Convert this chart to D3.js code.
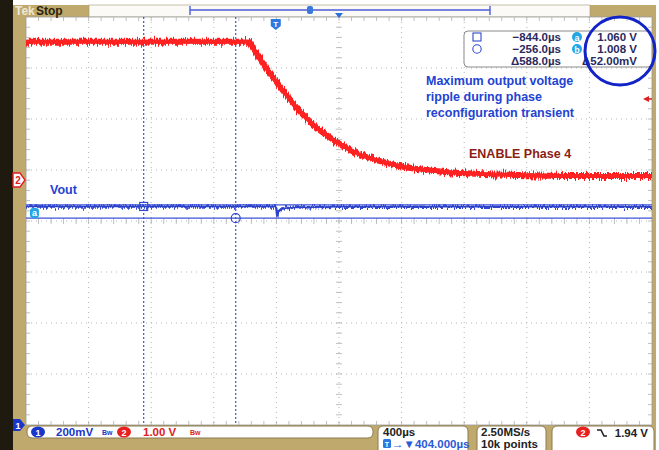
<!DOCTYPE html>
<html><head><meta charset="utf-8">
<script src="https://cdn.jsdelivr.net/npm/d3@7"></script>
<style>body{margin:0;background:#fff}svg{display:block}</style>
</head><body>
<svg id="c" width="659" height="450"></svg>
<script>
// ---- data ----
const timeUs  = [-1596, -172, -140, -76, 0, 83, 146, 242, 338, 433, 529, 656, 783, 943, 1102, 1293, 1548, 1930, 2404];
const enableV = [2.71, 2.71, 2.55, 2.26, 1.94, 1.61, 1.37, 1.08, 0.85, 0.66, 0.51, 0.38, 0.28, 0.20, 0.15, 0.12, 0.10, 0.08, 0.08];
const voutT   = [-1596, -5, 3, 9, 15, 40, 120, 400, 2404];
const voutV   = [1.054, 1.054, 1.046, 1.014, 1.034, 1.046, 1.050, 1.053, 1.053];
const cursorT = [-844, -256];
const cursorV = [1.060, 1.008];
const measLabels = ["\u2212844.0\u00b5s", "\u2212256.0\u00b5s", "\u0394588.0\u00b5s"];
const measVolts  = ["1.060 V", "1.008 V", "\u039452.00mV"];
const annotation = ["Maximum output voltage", "ripple during phase", "reconfiguration transient"];
const ch1Scale = 0.2, ch2Scale = 1.0, timePerDiv = 400, delayUs = 404, trigLevel = 1.94;

// ---- layout ----
const svg = d3.select("#c");
const L = 26, R = 652, T = 17, B = 425;
const TAN = "#bfa96c";
const UI = "Liberation Sans";
const x = d3.scaleLinear().domain([delayUs - 5*timePerDiv, delayUs + 5*timePerDiv]).range([L, R]);
const ch1Center = 0.997, ch2Center = -0.804;
const y1 = d3.scaleLinear().domain([ch1Center - 4*ch1Scale, ch1Center + 4*ch1Scale]).range([B, T]);
const y2 = d3.scaleLinear().domain([ch2Center - 4*ch2Scale, ch2Center + 4*ch2Scale]).range([B, T]);

// frame
svg.append("rect").attr("x",0).attr("y",0).attr("width",659).attr("height",450).attr("fill","#fff");
svg.append("rect").attr("x",13).attr("y",5).attr("width",643).attr("height",445).attr("fill",TAN);
svg.append("rect").attr("x",0).attr("y",0).attr("width",13).attr("height",450).attr("fill","#1e1a10");
svg.append("rect").attr("x",89).attr("y",5).attr("width",501).attr("height",12).attr("fill","#fbfaf6").attr("stroke","#a09878").attr("stroke-width",0.6);
svg.append("rect").attr("x",L).attr("y",T).attr("width",R-L).attr("height",B-T).attr("fill","#fff").attr("stroke","#9a9a9a").attr("stroke-width",0.8);

// grid
const g = svg.append("g");
const xt = d3.range(1,10).map(i => x.domain()[0] + i*timePerDiv);
const yt = d3.range(1,8).map(i => y1.domain()[0] + i*ch1Scale);
g.selectAll(".vg").data(xt).join("line").attr("x1",d=>x(d)).attr("x2",d=>x(d)).attr("y1",T).attr("y2",B)
  .attr("stroke","#b4b4b4").attr("stroke-width",1).attr("stroke-dasharray","1,4");
g.selectAll(".hg").data(yt).join("line").attr("y1",d=>y1(d)).attr("y2",d=>y1(d)).attr("x1",L).attr("x2",R)
  .attr("stroke","#b4b4b4").attr("stroke-width",1).attr("stroke-dasharray","1,4");
// minor ticks
const xm = d3.range(1,50).map(i => x.domain()[0] + i*timePerDiv/5);
const ym = d3.range(1,40).map(i => y1.domain()[0] + i*ch1Scale/5);
const cx = x(delayUs), cy = y1(ch1Center);
const tick = (x1,y1_,x2,y2_) => g.append("line").attr("x1",x1).attr("y1",y1_).attr("x2",x2).attr("y2",y2_).attr("stroke","#b0b0b0").attr("stroke-width",0.8);
xm.forEach(v => { const px = x(v); tick(px,T,px,T+4); tick(px,B-4,px,B); tick(px,cy-3,px,cy+3); });
ym.forEach(v => { const py = y1(v); tick(L,py,L+4,py); tick(R-4,py,R,py); tick(cx-3,py,cx+3,py); });

// noise filter (visual texture only)
const defs = svg.append("defs");
const f = defs.append("filter").attr("id","nz").attr("x","-5%").attr("y","-20%").attr("width","110%").attr("height","140%");
f.append("feTurbulence").attr("type","fractalNoise").attr("baseFrequency","0.9 0.03").attr("numOctaves",2).attr("seed",3).attr("result","t");
f.append("feColorMatrix").attr("in","t").attr("type","matrix")
  .attr("values","0 0 0 0 0.5  0 1 0 0 0  0 0 0 0 0  0 0 0 0 1").attr("result","m");
f.append("feDisplacementMap").attr("in","SourceGraphic").attr("in2","m").attr("scale",9).attr("xChannelSelector","R").attr("yChannelSelector","G");

// cursors (vertical)
svg.selectAll(".cur").data(cursorT).join("line").attr("x1",d=>x(d)).attr("x2",d=>x(d)).attr("y1",T).attr("y2",B)
  .attr("stroke","#3c52d8").attr("stroke-width",1.2).attr("stroke-dasharray","2,2");
// horizontal cursors
svg.selectAll(".hcur").data(cursorV).join("line").attr("x1",L).attr("x2",R).attr("y1",d=>y1(d)).attr("y2",d=>y1(d))
  .attr("stroke","#3c52d8").attr("stroke-width",1.2);

// red trace
const redData = timeUs.map((t,i)=>[t,enableV[i]]);
const redLine = d3.line().x(d=>x(d[0])).y(d=>y2(d[1])).curve(d3.curveMonotoneX);
svg.append("path").datum(redData).attr("d",redLine).attr("fill","none").attr("stroke","#ff1a1a").attr("stroke-width",6).attr("filter","url(#nz)");
svg.append("path").datum(redData).attr("d",redLine).attr("fill","none").attr("stroke","#f22").attr("stroke-width",4);

// blue trace
const blueData = voutT.map((t,i)=>[t,voutV[i]]);
const blueLine = d3.line().x(d=>x(d[0])).y(d=>y1(d[1])).curve(d3.curveLinear);
svg.append("path").datum(blueData).attr("d",blueLine).attr("fill","none").attr("stroke","#3048d0").attr("stroke-width",2.4).attr("filter","url(#nz)");
svg.append("path").datum(blueData).attr("d",blueLine).attr("fill","none").attr("stroke","#2a40c8").attr("stroke-width",1.4);

// cursor markers
svg.append("rect").attr("x",x(cursorT[0])-4).attr("y",y1(voutV[0])-4).attr("width",8).attr("height",8).attr("fill","none").attr("stroke","#3048d0").attr("stroke-width",1.2);
svg.append("circle").attr("cx",x(cursorT[1])).attr("cy",y1(cursorV[1])).attr("r",4.5).attr("fill","none").attr("stroke","#3048d0").attr("stroke-width",1.2);

// top bar
svg.append("text").attr("x",15).attr("y",15).attr("font-family",UI).attr("font-size",12).attr("font-weight","bold").attr("fill","#eee8d8").text("Tek");
svg.append("text").attr("x",36).attr("y",15).attr("font-family",UI).attr("font-size",12).attr("font-weight","bold").attr("fill","#2a2410").text("Stop");
const tb = svg.append("g").attr("stroke","#4a5cd8").attr("stroke-width",1.4);
tb.append("line").attr("x1",190).attr("x2",490).attr("y1",10).attr("y2",10);
tb.append("line").attr("x1",190).attr("x2",190).attr("y1",6).attr("y2",15);
tb.append("line").attr("x1",490).attr("x2",490).attr("y1",6).attr("y2",15);
svg.append("rect").attr("x",307).attr("y",6).attr("width",6).attr("height",8).attr("rx",2).attr("fill","#3a78e0");
svg.append("path").attr("d",`M${x(delayUs)-4},13 L${x(delayUs)+4},13 L${x(delayUs)},18 Z`).attr("fill","#2a70d8");
// trigger T marker
const tx = x(0);
svg.append("path").attr("d",`M${tx-5},19 h10 v7 l-5,4 l-5,-4 Z`).attr("fill","#2a78e0");
svg.append("text").attr("x",tx).attr("y",27).attr("text-anchor","middle").attr("font-family",UI).attr("font-size",8).attr("font-weight","bold").attr("fill","#fff").text("T");
// trigger level arrow right
const ty = 99;
svg.append("path").attr("d",`M${R-9},${ty} L${R-3},${ty-3} L${R-3},${ty+3} Z`).attr("fill","#e02020");
svg.append("line").attr("x1",R-4).attr("x2",R).attr("y1",ty).attr("y2",ty).attr("stroke","#e02020").attr("stroke-width",1.5);

// left markers
svg.append("path").attr("d",`M13,${y2(0)-7} h7 l5,7 l-5,7 h-7 Z`).attr("fill","#fff").attr("stroke","#e02020").attr("stroke-width",1.4);
svg.append("text").attr("x",18).attr("y",y2(0)+4).attr("text-anchor","middle").attr("font-family",UI).attr("font-size",10).attr("font-weight","bold").attr("fill","#e02020").text("2");
svg.append("path").attr("d",`M13,${B-6} h7 l5,6 l-5,6 h-7 Z`).attr("fill","#1a36c8");
svg.append("text").attr("x",18).attr("y",B+4).attr("text-anchor","middle").attr("font-family",UI).attr("font-size",9).attr("font-weight","bold").attr("fill","#fff").text("1");
svg.append("rect").attr("x",30).attr("y",y1(cursorV[0])+3).attr("width",9).attr("height",10).attr("rx",3).attr("fill","#22a6e6");
svg.append("text").attr("x",34.5).attr("y",y1(cursorV[0])+11).attr("text-anchor","middle").attr("font-family",UI).attr("font-size",9).attr("font-weight","bold").attr("fill","#fff").text("a");

// measurement box
const mb = svg.append("g");
mb.append("rect").attr("x",464).attr("y",31).attr("width",188).attr("height",36).attr("rx",4).attr("fill","#fff").attr("stroke","#8a8a8a").attr("stroke-width",1);
mb.append("rect").attr("x",473).attr("y",33).attr("width",8).attr("height",8).attr("fill","none").attr("stroke","#3048d0").attr("stroke-width",1.1);
mb.append("circle").attr("cx",477).attr("cy",49).attr("r",4.2).attr("fill","none").attr("stroke","#3048d0").attr("stroke-width",1.1);
measLabels.forEach((s,i)=> mb.append("text").attr("x",561).attr("y",41+i*12).attr("text-anchor","end").attr("font-family",UI).attr("font-size",11.5).attr("font-weight","bold").attr("fill","#2a2a60").text(s));
["a","b"].forEach((s,i)=>{ mb.append("circle").attr("cx",577).attr("cy",37+i*12).attr("r",5).attr("fill","#22a6e6");
  mb.append("text").attr("x",577).attr("y",40.5+i*12).attr("text-anchor","middle").attr("font-family",UI).attr("font-size",9).attr("font-weight","bold").attr("fill","#fff").text(s); });
measVolts.forEach((s,i)=> mb.append("text").attr("x",637).attr("y",41+i*12).attr("text-anchor","end").attr("font-family",UI).attr("font-size",11.5).attr("font-weight","bold").attr("fill","#2a2a60").text(s));
svg.append("ellipse").attr("cx",620).attr("cy",51).attr("rx",35).attr("ry",34).attr("fill","none").attr("stroke","#1224c8").attr("stroke-width",3);

// annotations
annotation.forEach((s,i)=> svg.append("text").attr("x",426).attr("y",85+i*16).attr("font-family","Liberation Sans").attr("font-size",12.5).attr("font-weight","bold").attr("fill","#2343d3").text(s));
svg.append("text").attr("x",469).attr("y",158).attr("font-family","Liberation Sans").attr("font-size",12.5).attr("font-weight","bold").attr("fill","#8a1e14").text("ENABLE Phase 4");
svg.append("text").attr("x",50).attr("y",194).attr("font-family","Liberation Sans").attr("font-size",12.5).attr("font-weight","bold").attr("fill","#2343d3").text("Vout");

// bottom status bar
const sb = svg.append("g");
const box = (x0,w,h) => sb.append("rect").attr("x",x0).attr("y",426).attr("width",w).attr("height",h).attr("rx",5).attr("fill","#fff").attr("stroke","#8a7a50").attr("stroke-width",1);
box(27,346,12); box(378,90,30); box(477,69,30); box(552,102,30);
const badge = (cx_,cy_,col,t) => { sb.append("ellipse").attr("cx",cx_).attr("cy",cy_).attr("rx",7).attr("ry",5.5).attr("fill",col);
  sb.append("text").attr("x",cx_).attr("y",cy_+3.5).attr("text-anchor","middle").attr("font-family",UI).attr("font-size",9).attr("font-weight","bold").attr("fill","#fff").text(t); };
const txt = (x0,y0,s,col,size,anchor) => sb.append("text").attr("x",x0).attr("y",y0).attr("text-anchor",anchor||"start").attr("font-family",UI).attr("font-size",size||11.5).attr("font-weight","bold").attr("fill",col).text(s);
badge(38,432,"#1a36c8","1");
txt(56,436,"200mV","#1a36c8");
txt(102,435,"Bw","#1a36c8",7);
badge(124,432,"#e82020","2");
txt(143,436,"1.00 V","#e02020");
txt(190,435,"Bw","#e02020",7);
txt(383,436,"400\u00b5s","#222");
sb.append("rect").attr("x",383).attr("y",439).attr("width",8).attr("height",9).attr("rx",1.5).attr("fill","#2a78e0");
txt(387,447,"T","#fff",7,"middle");
txt(392,448,"\u2192\u25bc404.000\u00b5s","#2a5ad8",11.5);
txt(481,436,"2.50MS/s","#222");
txt(481,448,"10k points","#222");
badge(583,432,"#e82020","2");
sb.append("path").attr("d","M597,430 h4 l3,6 h3").attr("fill","none").attr("stroke","#222").attr("stroke-width",1.6);
txt(648,437,"1.94 V","#222",11.5,"end");
</script>
</body></html>
